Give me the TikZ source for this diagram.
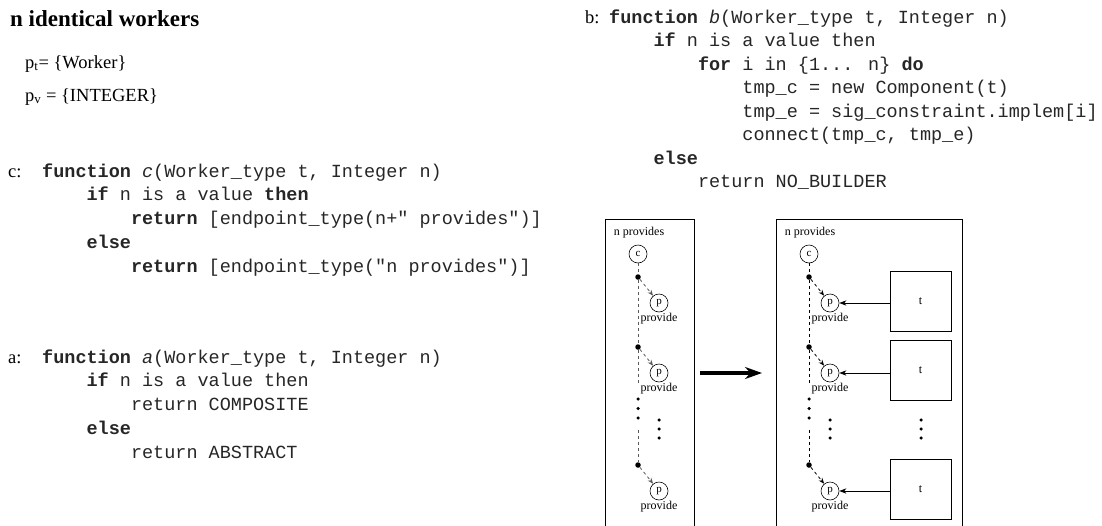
\documentclass[tikz,border=0pt]{standalone}
\usepackage{fontspec}
\setmainfont{Liberation Serif}
\newfontfamily\codefont{Liberation Mono}
\usetikzlibrary{arrows.meta, positioning}
\newcommand{\kw}[1]{\textbf{#1}}
\newcommand{\fn}[1]{\textit{#1}}

\begin{document}
\begin{tikzpicture}[
  x=1pt, y=-1pt,
  code/.style={anchor=base west, inner sep=0pt, text=black!85, font=\codefont\fontsize{18.5}{21}\selectfont},
  lbl/.style={anchor=base west, inner sep=0pt, font=\fontsize{18.5}{21}\selectfont},
  panel/.style={draw, thin, anchor=north west, inner sep=0pt},
  comp/.style={circle, draw, semithick, minimum size=18pt, inner sep=0pt, font=\fontsize{11}{13}\selectfont},
  tbox/.style={draw, semithick, minimum width=61pt, minimum height=60pt, inner sep=0pt, font=\fontsize{12}{14}\selectfont},
  joint/.style={circle, fill, inner sep=0pt, minimum size=5.5pt},
  edot/.style={circle, fill, inner sep=0pt, minimum size=3.5pt},
  small/.style={font=\fontsize{12}{14}\selectfont, inner sep=0pt},
  spine/.style={dashed, thick},
  bind/.style={-{Stealth[length=6pt]}, dashed, thick},
  impl/.style={-{Stealth[length=7pt, inset=2pt]}, thick},
  morph/.style={-{Stealth[length=17pt, width=12pt]}, line width=3.5pt},
]
  \useasboundingbox (0,0) rectangle (1102,525);
  \clip (0,0) rectangle (1102,525);

  %% ─── SIGNATURE ──────────────────────────────────────────────────────
  \node[anchor=base west, inner sep=0pt, font=\bfseries\fontsize{23}{26}\selectfont]
    (title) at (10,26) {n identical workers};
  \node[lbl] (ptype) at (25,68) {p\textsubscript{t}= \{Worker\}};
  \node[lbl] (pval) at (25,101) {p\textsubscript{v} = \{INTEGER\}};

  %% ─── c: ENDPOINTS ───────────────────────────────────────────────────
  \node[lbl] (clbl) at (8,177) {c:};
  \foreach \k/\ind/\txt in {
    0/0/{\kw{function} \fn{c}(Worker\_type t, Integer n)},
    1/1/{\kw{if} n is a value \kw{then}},
    2/2/{\kw{return} [endpoint\_type(n+" provides")]},
    3/1/{\kw{else}},
    4/2/{\kw{return} [endpoint\_type("n provides")]}}
    \node[code] (cc\k) at (42+\ind*44.4, 177+\k*23.8) {\txt};

  %% ─── a: KIND ────────────────────────────────────────────────────────
  \node[lbl] (albl) at (8,363) {a:};
  \foreach \k/\ind/\txt in {
    0/0/{\kw{function} \fn{a}(Worker\_type t, Integer n)},
    1/1/{\kw{if} n is a value then},
    2/2/{return COMPOSITE},
    3/1/{\kw{else}},
    4/2/{return ABSTRACT}}
    \node[code] (ac\k) at (42+\ind*44.4, 363+\k*23.8) {\txt};

  %% ─── b: BUILDER ─────────────────────────────────────────────────────
  \node[lbl] (blbl) at (585,23) {b:};
  \foreach \k/\ind/\txt in {
    0/0/{\kw{function} \fn{b}(Worker\_type t, Integer n)},
    1/1/{\kw{if} n is a value then},
    2/2/{\kw{for} i in \{1... n\} \kw{do}},
    3/3/{tmp\_c = new Component(t)},
    4/3/{tmp\_e = sig\_constraint.implem[i]},
    5/3/{connect(tmp\_c, tmp\_e)},
    6/1/{\kw{else}},
    7/2/{return NO\_BUILDER}}
    \node[code] (bc\k) at (609+\ind*44.4, 23+\k*23.5) {\txt};

  %% ─── BEFORE / AFTER ─────────────────────────────────────────────────
  \node[panel, minimum width=89pt, minimum height=320pt] (before) at (605,219) {};
  \node[panel, minimum width=186pt, minimum height=320pt] (after) at (776,219) {};
  \node[small] (bname) at (639,233) {n provides};
  \node[small] (aname) at (810,233) {n provides};

  % c endpoint, chain of provides
  \foreach \cx/\s/\col in {638/L/gray!70!black, 809/R/black} {
    \node[comp] (c\s) at (\cx,254) {c};
    \foreach \k/\y in {1/277, 2/347, 3/465} {
      \node[joint] (d\s\k) at (\cx,\y) {};
      \node[comp] (p\s\k) at (\cx+21,\y+26) {p};
      \node[small, below=1pt of p\s\k] (pl\s\k) {provide};
      \draw[bind, \col] (d\s\k) -- (p\s\k);
    }
    \coordinate (g\s1) at (\cx,383);
    \coordinate (g\s2) at (\cx,430);
    \draw[spine, \col] (c\s) -- (d\s1) -- (d\s2) -- (g\s1);
    \draw[spine, \col] (g\s2) -- (d\s3);
    \foreach \e in {0,1,2} {
      \node[edot] (v\s\e) at (\cx,399+\e*9.5) {};
      \node[edot] (w\s\e) at (\cx+21,420+\e*9) {};
    }
  }

  % transformation
  \coordinate (m0) at (700,373);
  \coordinate (m1) at (762,373);
  \draw[morph] (m0) -- (m1);

  % t components bound to provides
  \foreach \k/\y in {1/301, 2/370.5, 3/489} {
    \node[tbox] (t\k) at (920.5,\y) {t};
    \draw[impl] (t\k.west |- pR\k) -- (pR\k);
  }
  \foreach \e in {0,1,2}
    \node[edot] (wt\e) at (921,420+\e*9) {};
\end{tikzpicture}
\end{document}
